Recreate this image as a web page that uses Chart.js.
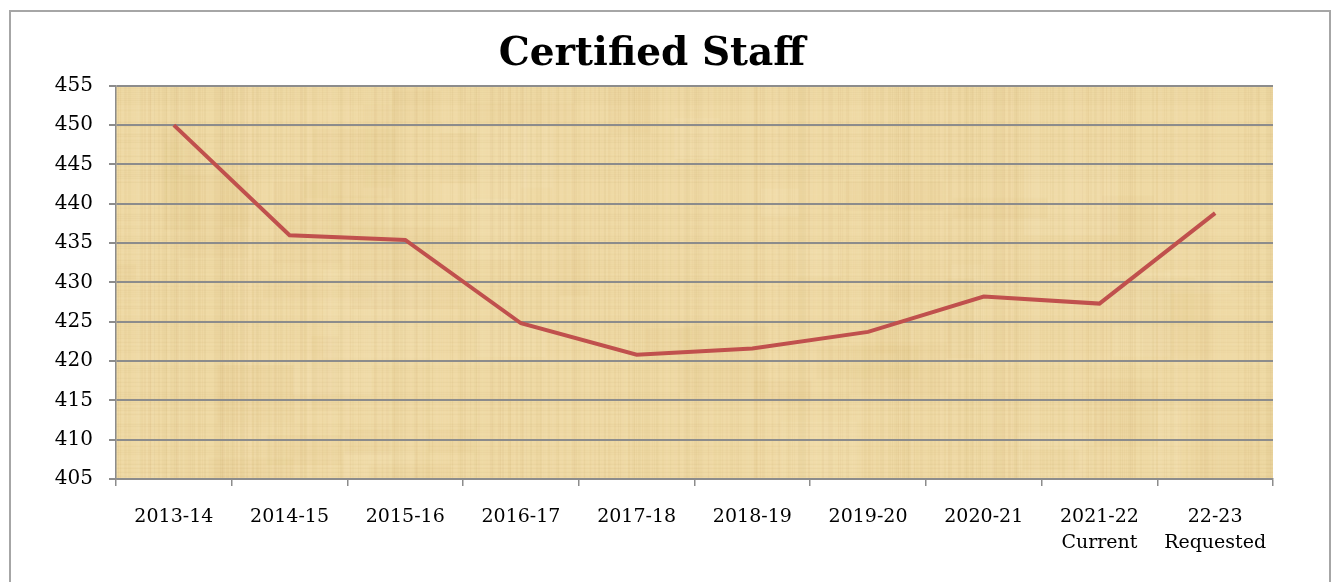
<!DOCTYPE html>
<html>
<head>
<meta charset="utf-8">
<script src="https://cdn.jsdelivr.net/npm/chart.js@4"></script>
<style>
  html, body { margin: 0; padding: 0; background: #fff; }
  #wrap { position: relative; width: 1337px; height: 582px; }
  #frame { position: absolute; left: 9px; top: 10px; width: 1322px; height: 600px; border: 2px solid #a6a6a6; box-sizing: border-box; }
  canvas { position: absolute; left: 0; top: 0; }
</style>
</head>
<body>
<div id="wrap">
  <div id="frame"></div>
  <canvas id="c" width="1337" height="582"></canvas>
</div>
<script>
const categories = ["2013-14", "2014-15", "2015-16", "2016-17", "2017-18", "2018-19", "2019-20", "2020-21", ["2021-22", "Current"], ["22-23", "Requested"]];
const staffValues = [450, 436, 435.4, 424.8, 420.8, 421.6, 423.7, 428.2, 427.3, 438.8];
const yMin = 405, yMax = 455, yStep = 5;

function makeTexture(w, h) {
  const c = document.createElement('canvas');
  c.width = w; c.height = h;
  const g = c.getContext('2d');
  g.fillStyle = '#efd9a4';
  g.fillRect(0, 0, w, h);
  const hash = (n) => { const s = Math.sin(n * 12.9898) * 43758.5453; return s - Math.floor(s); };
  // soft blotches
  for (let i = 0; i < 60; i++) {
    const bx = hash(i * 17.1) * w, by = hash(i * 3.7 + 5) * h;
    const bw = 20 + hash(i * 9.7) * 90, bh = 15 + hash(i * 4.1) * 80;
    g.fillStyle = hash(i * 1.3) > 0.5 ? 'rgba(250,236,195,0.14)' : 'rgba(225,195,125,0.10)';
    g.fillRect(bx, by, bw, bh);
  }
  // vertical fibres
  for (let x = 0; x < w; x += 2) {
    const a = 0.02 + 0.05 * hash(x * 3.1);
    g.fillStyle = hash(x) > 0.5 ? `rgba(255,245,215,${a})` : `rgba(175,140,70,${a})`;
    g.fillRect(x, 0, 1 + Math.floor(hash(x * 7.3) * 3), h);
  }
  // horizontal fibres
  for (let y = 0; y < h; y += 2) {
    const a = 0.02 + 0.05 * hash(y * 5.7);
    g.fillStyle = hash(y + 1000) > 0.5 ? `rgba(255,248,225,${a})` : `rgba(170,135,65,${a})`;
    g.fillRect(0, y, w, 1);
  }
  return c;
}

const bgPlugin = {
  id: 'papyrus',
  beforeDraw(chart) {
    const { ctx, chartArea: a } = chart;
    if (!chart._tex) chart._tex = makeTexture(Math.ceil(a.right - a.left), Math.ceil(a.bottom - a.top));
    ctx.drawImage(chart._tex, a.left, a.top);
  }
};

new Chart(document.getElementById('c'), {
  type: 'line',
  data: {
    labels: categories,
    datasets: [{
      data: staffValues,
      borderColor: '#c0504d',
      borderWidth: 4,
      pointRadius: 0,
      tension: 0,
      fill: false
    }]
  },
  options: {
    responsive: false,
    animation: false,
    layout: { padding: { left: 31, right: 64, top: 31, bottom: 8 } },
    plugins: {
      legend: { display: false },
      tooltip: { enabled: false },
      title: {
        display: true,
        text: 'Certified Staff',
        color: '#000',
        font: { family: 'DejaVu Serif', weight: 'bold', size: 39 },
        padding: { top: 0, bottom: 8 }
      }
    },
    scales: {
      x: {
        offset: true,
        grid: { drawOnChartArea: false, drawTicks: true, tickLength: 7, color: '#8c8c8c', lineWidth: 1.5, offset: true },
        border: { color: '#8c8c8c', width: 1.5 },
        ticks: { color: '#000', font: { family: 'DejaVu Serif', size: 19, lineHeight: 1.37 }, padding: 18, maxRotation: 0, autoSkip: false }
      },
      y: {
        min: yMin, max: yMax,
        afterFit(scale) { scale.width = 85; },
        grid: { color: '#8c8c8c', lineWidth: 2, tickLength: 7 },
        border: { color: '#8c8c8c', width: 1.5 },
        ticks: { stepSize: yStep, color: '#000', font: { family: 'DejaVu Serif', size: 20 }, padding: 16 }
      }
    }
  },
  plugins: [bgPlugin]
});
</script>
</body>
</html>
